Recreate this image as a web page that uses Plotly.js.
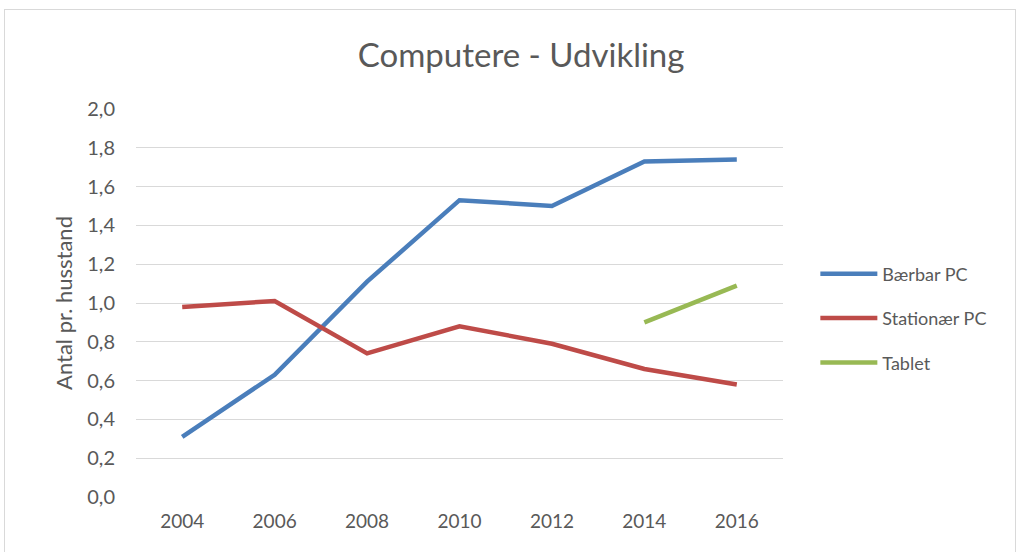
<!DOCTYPE html>
<html>
<head>
<meta charset="utf-8">
<script src="https://cdn.plot.ly/plotly-3.0.1.min.js"></script>
<style>
html,body{margin:0;padding:0;background:#fff;overflow:hidden;}
#frame{position:absolute;left:4px;top:9px;width:1012px;height:560px;border:1px solid #d9d9d9;box-sizing:border-box;}
#chart{position:absolute;left:0;top:0;width:1010px;height:543px;}
</style>
</head>
<body>
<div id="frame"><div id="chart"></div></div>
<script>
const years = ["2004","2006","2008","2010","2012","2014","2016"];
const baerbar = [0.31, 0.63, 1.11, 1.53, 1.50, 1.73, 1.74];
const stationaer = [0.98, 1.01, 0.74, 0.88, 0.79, 0.66, 0.58];
const tabletYears = ["2014","2016"];
const tablet = [0.90, 1.09];
const yTicks = [0,0.2,0.4,0.6,0.8,1.0,1.2,1.4,1.6,1.8,2.0];
const yTickText = ["0,0","0,2","0,4","0,6","0,8","1,0","1,2","1,4","1,6","1,8","2,0"];

const font = "Lato, 'Open Sans', sans-serif";
const grey = "#595959";

const traces = [
  {x: years, y: baerbar, name: "Bærbar PC", type: "scatter", mode: "lines", legendgroup: "a",
   line: {color: "#4A7EBB", width: 4.5}},
  {x: years, y: stationaer, name: "Stationær PC", type: "scatter", mode: "lines", legendgroup: "b",
   line: {color: "#BE4B48", width: 4.5}},
  {x: tabletYears, y: tablet, name: "Tablet", type: "scatter", mode: "lines", legendgroup: "c",
   line: {color: "#98B954", width: 4.5}}
];

const layout = {
  width: 1010, height: 543,
  margin: {l: 131, r: 232, t: 99, b: 56},
  paper_bgcolor: "#fff", plot_bgcolor: "#fff",
  font: {family: font, color: grey, size: 18},
  title: {text: "Computere - Udvikling", font: {family: font, size: 33, color: grey},
          x: 0.511, xanchor: "center", xref: "container", y: 0.917, yanchor: "middle"},
  xaxis: {type: "category", categoryorder: "array", categoryarray: years,
          range: [-0.5, 6.5], showgrid: false, zeroline: false, showline: false,
          ticks: "", tickfont: {size: 19, color: grey}, ticklabelstandoff: 11},
  yaxis: {range: [0, 2.0], tickvals: yTicks, ticktext: yTickText,
          showgrid: true, gridcolor: "#d9d9d9", gridwidth: 1, zeroline: false, showline: false,
          ticks: "", tickfont: {size: 20, color: grey}, ticklabelstandoff: 20,
          title: {text: "Antal pr. husstand", font: {size: 22, color: grey}, standoff: 8}},
  showlegend: true,
  legend: {x: 1.05, xanchor: "left", y: 0.46, yanchor: "middle",
           font: {size: 18, color: grey}, tracegroupgap: 18, itemwidth: 57,
           bgcolor: "rgba(0,0,0,0)"}
};

Plotly.newPlot("chart", traces, layout, {displayModeBar: false, staticPlot: true});
</script>
</body>
</html>
